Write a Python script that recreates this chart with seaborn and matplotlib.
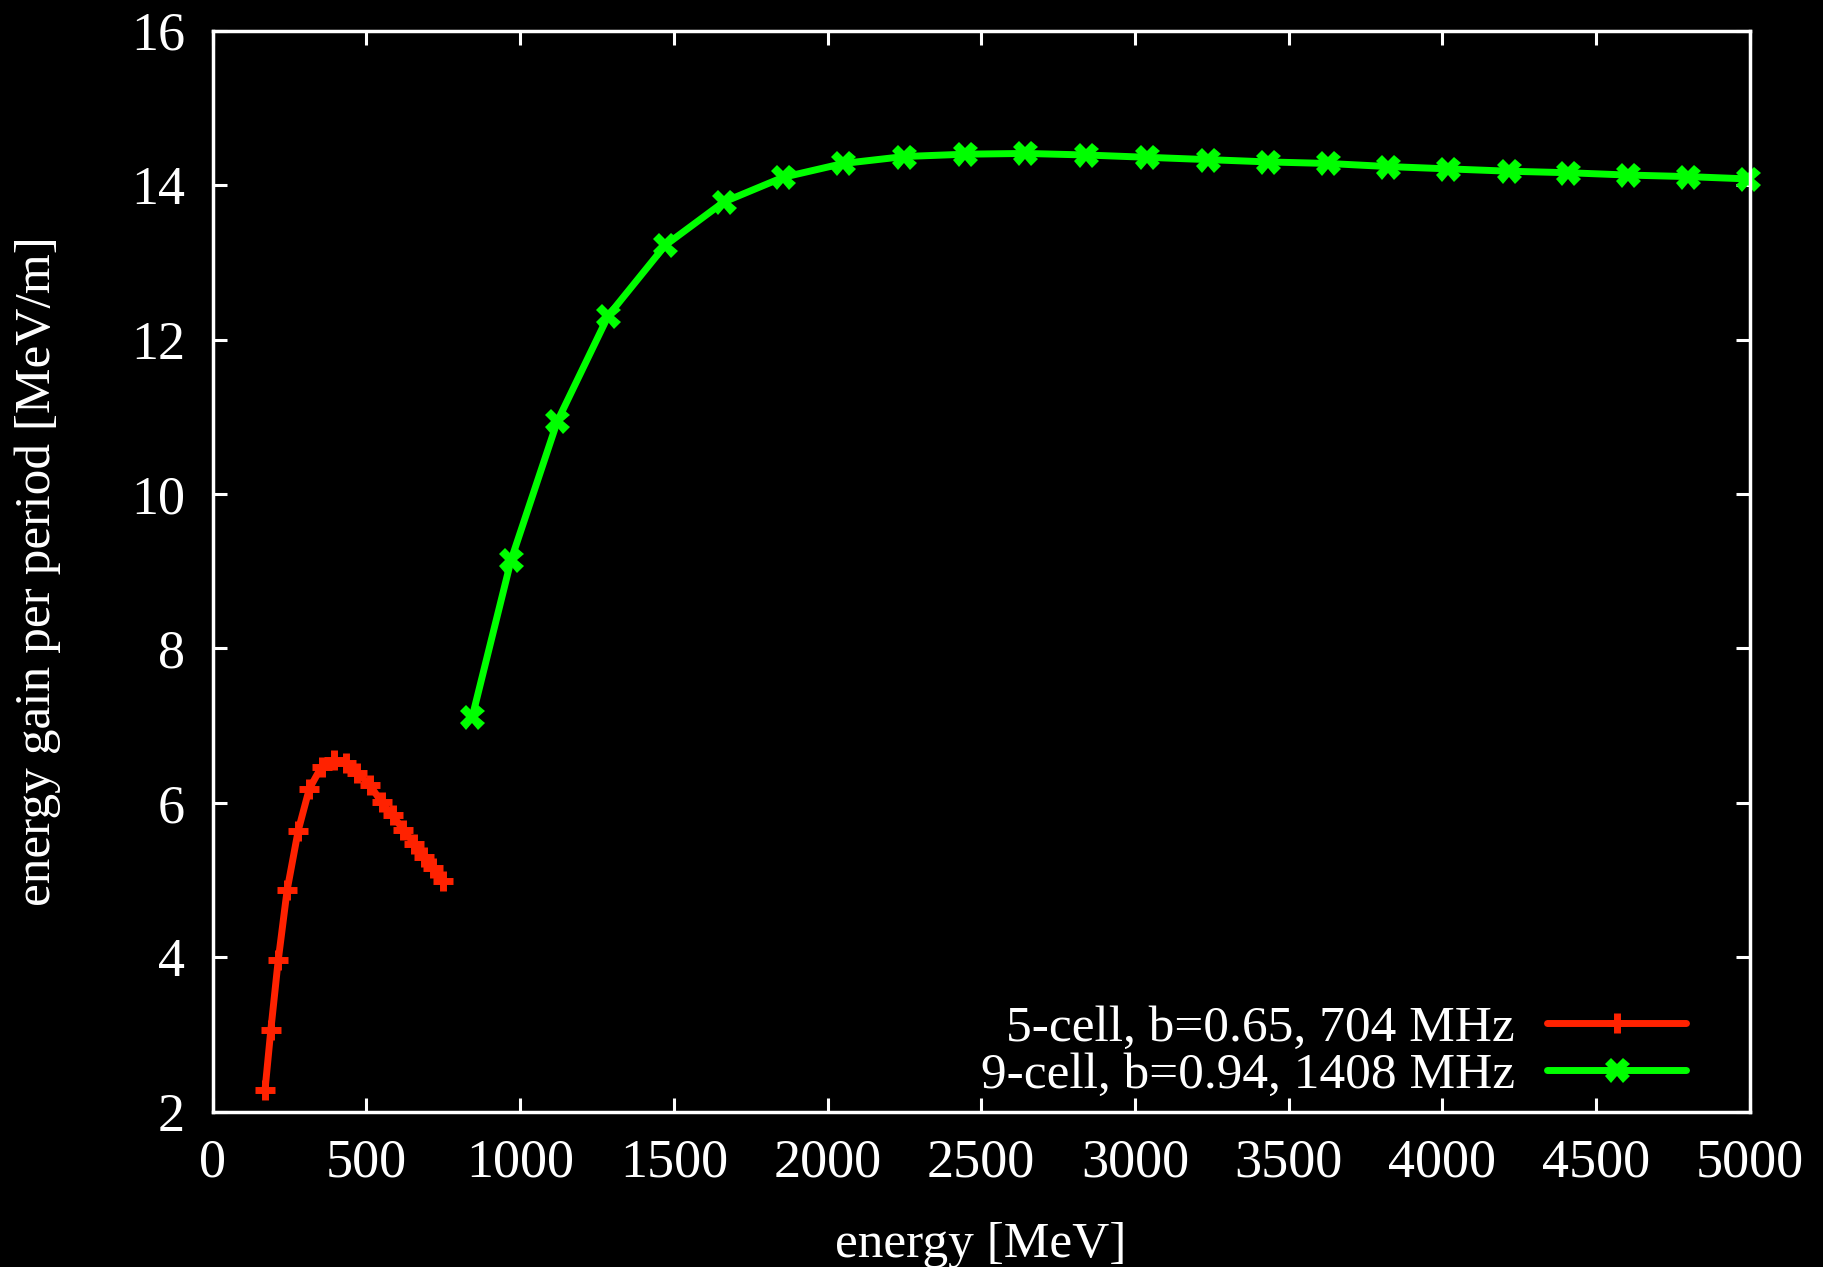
import matplotlib
matplotlib.use("Agg")
import matplotlib.pyplot as plt
import seaborn as sns
import pandas as pd

# --- data ---
red_energy = [170, 189, 213, 242, 278, 314, 354, 394, 433, 470, 511, 549, 585, 620, 655, 687, 717, 748]
red_gain = [2.28, 3.06, 3.96, 4.87, 5.64, 6.18, 6.47, 6.55, 6.51, 6.39, 6.23, 6.01, 5.84, 5.65, 5.47, 5.30, 5.15, 4.99]
green_energy = [844, 971, 1121, 1287, 1472, 1662, 1855, 2051, 2250, 2447, 2644, 2840, 3039, 3237, 3433,
                3628, 3824, 4020, 4216, 4410, 4604, 4799, 4993]
green_gain = [7.11, 9.15, 10.94, 12.31, 13.22, 13.78, 14.10, 14.28, 14.37, 14.40, 14.41, 14.39, 14.36, 14.33,
              14.30, 14.28, 14.24, 14.21, 14.18, 14.16, 14.13, 14.11, 14.08]
labels = ["5-cell, b=0.65, 704 MHz", "9-cell, b=0.94, 1408 MHz"]
x_ticks = [0, 500, 1000, 1500, 2000, 2500, 3000, 3500, 4000, 4500, 5000]
y_ticks = [2, 4, 6, 8, 10, 12, 14, 16]

sns.set_theme(style="ticks")
plt.rcParams['font.family'] = ['Liberation Serif', 'DejaVu Serif']
plt.rcParams['axes.unicode_minus'] = False

fig = plt.figure(figsize=(18.23, 12.67), dpi=100, facecolor="black")
ax = fig.add_axes([0.1167, 0.1226, 0.8431, 0.8532])
ax.set_facecolor("black")

df_red = pd.DataFrame({"energy": red_energy, "gain": red_gain})
df_green = pd.DataFrame({"energy": green_energy, "gain": green_gain})

sns.lineplot(data=df_red, x="energy", y="gain", ax=ax, color="#ff2200", linewidth=5,
             marker="+", markersize=15, markeredgewidth=5, markeredgecolor="#ff2200",
             label=labels[0], clip_on=False)
sns.lineplot(data=df_green, x="energy", y="gain", ax=ax, color="#00ff00", linewidth=5,
             marker="X", markersize=18, markeredgewidth=0, markerfacecolor="#00ff00",
             label=labels[1], clip_on=False)

ax.set_xlim(0, 5000)
ax.set_ylim(2, 16)
ax.set_xticks(x_ticks)
ax.set_yticks(y_ticks)
ax.set_xticklabels([str(t) for t in x_ticks])
ax.set_yticklabels([str(t) for t in y_ticks])

for s in ax.spines.values():
    s.set_color("white")
    s.set_linewidth(2.5)
    s.set_visible(True)

ax.tick_params(axis="both", which="major", direction="in", length=10, width=2.2,
               colors="white", labelsize=39, top=True, right=True)
ax.tick_params(axis="x", pad=19)
ax.tick_params(axis="y", pad=20)

ax.set_xlabel("energy [MeV]", color="white", fontsize=37, labelpad=24)
ax.set_ylabel("energy gain per period [MeV/m]", color="white", fontsize=37, labelpad=50)

leg = ax.legend(loc="lower right", frameon=False, fontsize=37, markerfirst=False,
                handlelength=2.7, handletextpad=0.63, labelspacing=0.0,
                borderaxespad=0.0, borderpad=0.25, bbox_to_anchor=(0.967, 0.0))
for t in leg.get_texts():
    t.set_color("white")

fig.savefig("out.png", dpi=100, facecolor="black")
